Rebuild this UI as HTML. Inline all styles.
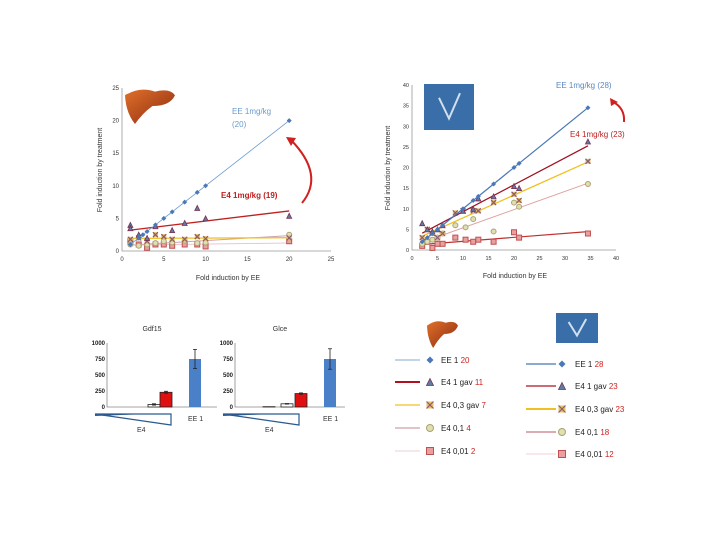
<!DOCTYPE html>
<html><head><meta charset="utf-8"><style>
body{margin:0;background:#fff;width:720px;height:540px;overflow:hidden;font-family:"Liberation Sans",sans-serif}
svg{position:absolute;left:0;top:0}
</style></head><body>
<svg width="720" height="540" xmlns="http://www.w3.org/2000/svg" font-family="Liberation Sans, sans-serif">
<defs>
<linearGradient id="liv" x1="0" y1="0" x2="1" y2="1"><stop offset="0" stop-color="#e0702a"/><stop offset="1" stop-color="#8a2a10"/></linearGradient>
</defs>
<g id="left"></g>
<g id="right"></g>
<g id="bars"></g>
<g id="legend"></g>
</svg>
<script>
// ---- Left chart data (liver) ----
const L_eeX=[1,2,2.5,3,4,5,6,7.5,9,10,20];
const L_eeY=[1,2,2.5,3,4,5,6,7.5,9,10,20];
const L_e41X=[1,1,2,3,4,6,7.5,9,10,20];
const L_e41Y=[4,3.5,2.5,2,3.8,3.2,4.3,6.6,5,5.4];
const L_e403X=[1,2,3,4,5,6,7.5,9,10,20];
const L_e403Y=[1.8,2,1.5,2.5,2.2,1.8,1.8,2.2,1.9,2];
const L_e401X=[1,2,3,4,5,6,7.5,9,10,20];
const L_e401Y=[1,0.8,1,1.2,1.5,1.3,1.6,1.2,1.3,2.5];
const L_e4001X=[1,2,3,4,5,6,7.5,9,10,20];
const L_e4001Y=[1.5,1,0.5,1,1,0.8,1,1,0.7,1.5];
const L_ticks=[0,5,10,15,20,25];
// ---- Right chart data (V image) ----
const R_eeX=[2,3,4,5,6,10,12,13,16,20,21,34.5];
const R_eeY=[2,3,4,5,6,10,12,13,16,20,21,34.5];
const R_e41X=[2,3,4,5,6,10,12,13,16,20,21,34.5];
const R_e41Y=[6.5,5,4.5,5,6,9.5,10,12.5,13,15.5,15,26.3];
const R_e403X=[2,3,4,5,6,8.5,10,12,13,16,20,21,34.5];
const R_e403Y=[3,5,4,3,4,9,9.5,9.5,9.5,11.5,13.5,12,21.5];
const R_e401X=[2,3,4,5,6,8.5,10.5,12,16,20,21,34.5];
const R_e401Y=[1.5,2,2.5,3,4,6,5.5,7.5,4.5,11.5,10.5,16];
const R_e4001X=[2,3,4,5,6,8.5,10.5,12,13,16,20,21,34.5];
const R_e4001Y=[1,2,0.5,1.5,1.5,3,2.5,2,2.5,2,4.3,3,4];
const R_ticksX=[0,5,10,15,20,25,30,35,40];
const R_ticksY=[0,5,10,15,20,25,30,35,40];
// ---- Bars ----
const gdfVals=[0,0,0,40,230,750];
const gdfErr=[0,0,0,10,15,150];
const glceVals=[0,0,5,50,210,750];
const glceErr=[0,0,0,5,10,160];
const barTicks=[0,250,500,750,1000];

const NS="http://www.w3.org/2000/svg";
function el(p,tag,a,txt){const e=document.createElementNS(NS,tag);for(const k in a)e.setAttribute(k,a[k]);if(txt!==undefined)e.textContent=txt;p.appendChild(e);return e;}
function fit(xs,ys){const n=xs.length;let sx=0,sy=0,sxx=0,sxy=0;for(let i=0;i<n;i++){sx+=xs[i];sy+=ys[i];sxx+=xs[i]*xs[i];sxy+=xs[i]*ys[i];}const b=(n*sxy-sx*sy)/(n*sxx-sx*sx);return[b,(sy-b*sx)/n];}
function marker(g,t,x,y,s){
 let m;
 if(t=='d')m=el(g,'path',{d:`M${x} ${y-s}L${x+s} ${y}L${x} ${y+s}L${x-s} ${y}Z`,fill:'#4a78b8'});
 else if(t=='t')m=el(g,'path',{d:`M${x} ${y-s}L${x+s} ${y+s}L${x-s} ${y+s}Z`,fill:'#5b7ea8',stroke:'#7a3050','stroke-width':0.8});
 else if(t=='x'){m=el(g,'rect',{x:x-s,y:y-s,width:2*s,height:2*s,fill:'#e8c060'});el(g,'path',{d:`M${x-s} ${y-s}L${x+s} ${y+s}M${x+s} ${y-s}L${x-s} ${y+s}`,stroke:'#8a5a70','stroke-width':1.2});}
 else if(t=='o')m=el(g,'circle',{cx:x,cy:y,r:s,fill:'#dde0b0',stroke:'#b0a070','stroke-width':1});
 else m=el(g,'rect',{x:x-s,y:y-s,width:2*s,height:2*s,fill:'#e8a0a0',stroke:'#c05050','stroke-width':1});
 return m;
}
function scatter(g,cfg){
 const {x0,x1,xmax,y0,y1,ymax,ticksX,ticksY,series,fs}=cfg;
 const sx=v=>x0+(x1-x0)*v/xmax, sy=v=>y0-(y0-y1)*v/ymax;
 const ax=el(g,'path',{d:`M${x0} ${y1}V${y0}H${x1}`,stroke:'#999',fill:'none','stroke-width':0.8});
 
 ticksX.forEach(t=>{const e=el(g,'text',{x:sx(t),y:y0+10,'font-size':fs,'text-anchor':'middle',fill:'#333'},t);});
 ticksY.forEach(t=>{const e=el(g,'text',{x:x0-3,y:sy(t)+2,'font-size':fs,'text-anchor':'end',fill:'#333'},t);});
 series.forEach(s=>{
  const [b,a]=fit(s.x,s.y);const xa=Math.min(...s.x),xb=Math.max(...s.x);
  const ln=el(g,'line',{x1:sx(xa),y1:sy(a+b*xa),x2:sx(xb),y2:sy(a+b*xb),stroke:s.c,'stroke-width':s.w});
  
  s.x.forEach((v,i)=>{const m=marker(g,s.m,sx(v),sy(s.y[i]),2.5);});
 });
}
function liver(g,x,y,w,h){
 const e=el(g,'path',{d:`M${x} ${y+h*0.2}Q${x+w*0.3} ${y-h*0.05} ${x+w*0.6} ${y+h*0.1}Q${x+w*0.9} ${y} ${x+w} ${y+h*0.2}Q${x+w*0.9} ${y+h*0.5} ${x+w*0.55} ${y+h*0.5}Q${x+w*0.35} ${y+h*0.7} ${x+w*0.2} ${y+h}Q${x+w*0.02} ${y+h*0.7} ${x} ${y+h*0.2}Z`,fill:'url(#liv)'});
 
}
function vimg(g,x,y,w,h){
 const r=el(g,'rect',{x:x,y:y,width:w,height:h,fill:'#3a6ea8'});
 
 el(g,'path',{d:`M${x+w*0.3} ${y+h*0.3}L${x+w*0.5} ${y+h*0.75}L${x+w*0.72} ${y+h*0.2}`,stroke:'#cfe0ee','stroke-width':2,fill:'none'});
}
const gL=document.getElementById('left');
scatter(gL,{x0:122,x1:331,xmax:25,y0:251,y1:88,ymax:25,ticksX:L_ticks,ticksY:L_ticks,fs:6,series:[
 {x:L_e4001X,y:L_e4001Y,m:'s',c:'#e8c8d0',w:1},
 {x:L_e401X,y:L_e401Y,m:'o',c:'#d0a0a8',w:1},
 {x:L_e403X,y:L_e403Y,m:'x',c:'#f0c020',w:1.3},
 {x:L_e41X,y:L_e41Y,m:'t',c:'#c02020',w:1.3},
 {x:L_eeX,y:L_eeY,m:'d',c:'#6a9ad0',w:0.8}]});
el(gL,'text',{x:228,y:280,'font-size':7,'text-anchor':'middle',fill:'#333'},'Fold induction by EE');
el(gL,'text',{x:102,y:170,'font-size':7,'text-anchor':'middle',fill:'#333',transform:'rotate(-90 102 170)'},'Fold induction by treatment');
el(gL,'text',{x:232,y:114,'font-size':8,fill:'#6a9ad0'},'EE 1mg/kg');
el(gL,'text',{x:232,y:127,'font-size':8,fill:'#6a9ad0'},'(20)');
el(gL,'text',{x:221,y:198,'font-size':8,'font-weight':'bold',fill:'#c02020'},'E4 1mg/kg (19)');
el(gL,'path',{d:'M302 203Q325 175 291 140',stroke:'#d02020','stroke-width':2,fill:'none'});
el(gL,'path',{d:'M286 137L296 138L291 146Z',fill:'#d02020'});
liver(gL,125,88,50,36);
const gR=document.getElementById('right');
scatter(gR,{x0:412,x1:616,xmax:40,y0:250,y1:85,ymax:40,ticksX:R_ticksX,ticksY:R_ticksY,fs:5.5,series:[
 {x:R_e4001X,y:R_e4001Y,m:'s',c:'#c03030',w:1.2},
 {x:R_e401X,y:R_e401Y,m:'o',c:'#e0a0a0',w:1},
 {x:R_e403X,y:R_e403Y,m:'x',c:'#f0c020',w:1.3},
 {x:R_e41X,y:R_e41Y,m:'t',c:'#a01020',w:1.3},
 {x:R_eeX,y:R_eeY,m:'d',c:'#4a78b8',w:1.2}]});
el(gR,'text',{x:515,y:278,'font-size':7,'text-anchor':'middle',fill:'#333'},'Fold induction by EE');
el(gR,'text',{x:390,y:168,'font-size':7,'text-anchor':'middle',fill:'#333',transform:'rotate(-90 390 168)'},'Fold induction by treatment');
el(gR,'text',{x:556,y:88,'font-size':8,fill:'#5a88c0'},'EE 1mg/kg (28)');
el(gR,'text',{x:570,y:137,'font-size':8,fill:'#c02020'},'E4 1mg/kg (23)');
el(gR,'path',{d:'M624 122Q625 108 613 102',stroke:'#d02020','stroke-width':2,fill:'none'});
el(gR,'path',{d:'M610 98L618 102L611 106Z',fill:'#d02020'});
vimg(gR,424,84,50,46);
// bars
const gB=document.getElementById('bars');
function bars(cx0,title,vals,errs,xs){
 const y0=407,y1=343,s=v=>y0-(y0-y1)*v/1000;
 el(gB,'text',{x:cx0+45,y:331,'font-size':7,'text-anchor':'middle',fill:'#333'},title);
 el(gB,'path',{d:`M${cx0} ${y1}V${y0}H${cx0+110}`,stroke:'#888',fill:'none','stroke-width':0.8});
 barTicks.forEach(t=>{const e=el(gB,'text',{x:cx0-2,y:s(t)+2,'font-size':6,'font-weight':'bold','text-anchor':'end',fill:'#222'},t);});
 const cols=['#fff','#fff','#fff','#fff','#e01010','#4a80c8'];
 vals.forEach((v,i)=>{const x=cx0+xs[i],h=y0-s(v);
  const r=el(gB,'rect',{x:x-6,y:s(v),width:12,height:h,fill:cols[i],stroke:i<5&&v>0?'#222':'none','stroke-width':0.8});
  
  if(errs[i])el(gB,'path',{d:`M${x} ${s(v-errs[i])}V${s(v+errs[i])}M${x-2} ${s(v+errs[i])}h4M${x-2} ${s(v-errs[i])}h4`,stroke:'#222','stroke-width':0.8});});
 const w=el(gB,'path',{d:`M${cx0-12} 414H${cx0+64}V425Z`,fill:'#fff',stroke:'#2a5a90','stroke-width':1.2});
 
 el(gB,'path',{d:`M${cx0-12} 414H${cx0+40}L${cx0-12} 416Z`,fill:'#2a5a90'});
 el(gB,'text',{x:cx0+30,y:432,'font-size':7,fill:'#333'},'E4');
 el(gB,'text',{x:cx0+xs[5]-7,y:421,'font-size':7,fill:'#333'},'EE 1');
}
bars(107,'Gdf15',gdfVals,gdfErr,[6,20,35,47,59,88]);
bars(235,'Glce',glceVals,glceErr,[6,20,34,52,66,95]);
// legends
const gG=document.getElementById('legend');
liver(gG,427,320,31,28);
vimg(gG,556,313,42,30);
function legend(lx,mx,tx,ys,lines,marks,labs,nums){
 ys.forEach((y,i)=>{
  el(gG,'line',{x1:lx,y1:y,x2:lx+(lx>500?30:25),y2:y,stroke:lines[i][0],'stroke-width':lines[i][1]});
  const m=marker(gG,marks[i],mx,y,3.5);
  const t=el(gG,'text',{x:tx,y:y+3,'font-size':8,fill:'#222'},labs[i]+' ');
  
  const sp=document.createElementNS(NS,'tspan');sp.setAttribute('fill','#d02020');sp.textContent=nums[i];t.appendChild(sp);
 });
}
const mk=['d','t','x','o','s'];
legend(395,430,441,[360,382,405,428,451],[['#8aaad0',1],['#b01020',2],['#f0c020',1.3],['#d0a0a8',1.2],['#e8d0d8',1]],mk,['EE 1','E4 1 gav','E4 0,3 gav','E4 0,1','E4 0,01'],['20','11','7','4','2']);
legend(526,562,575,[364,386,409,432,454],[['#8aaad0',2],['#b01020',1.3],['#f0c020',2],['#d09098',1.5],['#f0d0d8',1]],mk,['EE 1','E4 1 gav','E4 0,3 gav','E4 0,1','E4 0,01'],['28','23','23','18','12']);
</script>
</body></html>
